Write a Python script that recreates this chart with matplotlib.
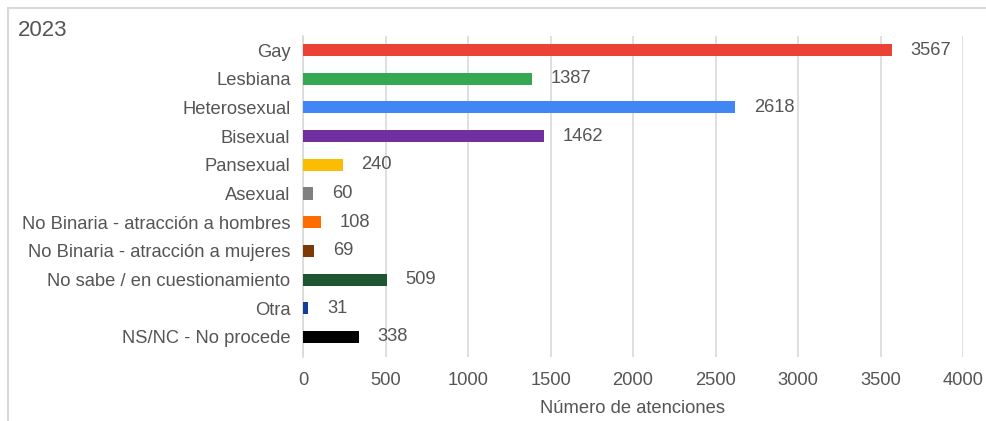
import matplotlib.pyplot as plt
from matplotlib.patches import Rectangle

categorias = ['Gay', 'Lesbiana', 'Heterosexual', 'Bisexual', 'Pansexual', 'Asexual',
              'No Binaria - atracción a hombres', 'No Binaria - atracción a mujeres',
              'No sabe / en cuestionamiento', 'Otra', 'NS/NC - No procede']
valores = [3567, 1387, 2618, 1462, 240, 60, 108, 69, 509, 31, 338]
colores = ['#EA4335', '#34A853', '#4285F4', '#7030A0', '#FBBC04', '#808080',
           '#FF6D01', '#7B3A06', '#1E5631', '#0D3F9B', '#000000']
ticks_x = [0, 500, 1000, 1500, 2000, 2500, 3000, 3500, 4000]

plt.rcParams['font.family'] = ['Liberation Sans', 'DejaVu Sans']
gris = '#555555'

fig = plt.figure(figsize=(9.86, 4.21), dpi=100)
ax = fig.add_axes([303 / 986, 1 - 357 / 421, 660 / 986, 321 / 421])

y = list(range(len(categorias)))
ax.barh(y, valores, height=0.42, color=colores, zorder=3)

# etiquetas de valor a la derecha de cada barra
for yi, v in zip(y, valores):
    ax.annotate(str(v), (v, yi), xytext=(13.5, 0), textcoords='offset points',
                ha='left', va='center', fontsize=13.2, color=gris)

ax.set_xlim(0, 4000)
ax.set_ylim(10.7, -0.49)
ax.set_xticks(ticks_x)
ax.set_yticks(y)
ax.set_yticklabels(categorias)
ax.tick_params(axis='both', length=0, labelsize=13.2, colors=gris)
ax.tick_params(axis='x', pad=11)
ax.tick_params(axis='y', pad=9)
ax.grid(axis='x', color='#d9d9d9', linewidth=1.2, zorder=0)
for s in ['top', 'right', 'bottom']:
    ax.spines[s].set_visible(False)
ax.spines['left'].set_color('#d9d9d9')
ax.spines['left'].set_linewidth(1.2)
ax.set_xlabel('Número de atenciones', fontsize=13.2, color=gris, labelpad=8)

fig.text(18 / 986, 1 - 30 / 421, '2023', fontsize=16, color=gris, va='center', ha='left')

# marco gris exterior (recortado a la derecha y abajo)
fig.patches.append(Rectangle((8 / 986, -0.1), 1.2, 1.1 - 8 / 421, transform=fig.transFigure,
                             fill=False, edgecolor='#d9d9d9', linewidth=1.5))

fig.savefig('out.png', dpi=100)
